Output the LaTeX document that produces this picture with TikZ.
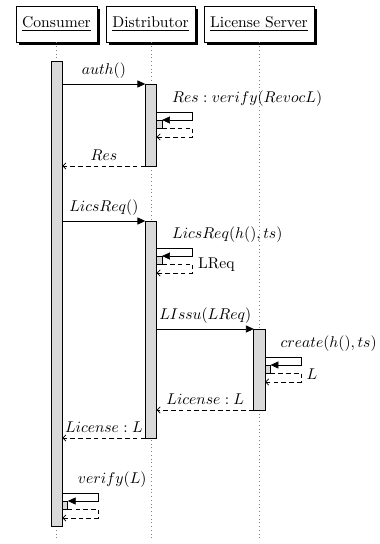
\documentclass[tikz,border=0pt]{standalone}
\usetikzlibrary{arrows.meta,shadows}
\begin{document}
\begin{tikzpicture}[x=0.64pt,y=-0.64pt,
  hdr/.style={draw, fill=white, minimum height=23.04pt, inner sep=2pt,
    drop shadow={fill=black, opacity=1, shadow xshift=2.1pt, shadow yshift=-2.1pt}},
  bar/.style={draw, fill=gray!30, inner sep=0pt, outer sep=0pt, minimum width=7.3pt},
  nbar/.style={draw, fill=gray!30, inner sep=0pt, outer sep=0pt, minimum width=3.46pt, minimum height=5.12pt},
  life/.style={gray, dotted},
  callarr/.style={-{Triangle[length=5pt,width=4.5pt]}},
  retarr/.style={dashed, dash pattern=on 3pt off 2pt, -{Straight Barb[length=2pt,width=4pt]}}]
\useasboundingbox (0,0) rectangle (380,544);

% headers
\node[hdr, minimum width=51.84pt] (hc) at (56.5,24) {\underline{Consumer}};
\node[hdr, minimum width=56.96pt] (hd) at (150.5,24) {\underline{Distributor}};
\node[hdr, minimum width=70.4pt] (hl) at (259,24) {\underline{License Server}};

% lifeline ends
\coordinate (ec) at (56.7,541);
\coordinate (ed) at (151,541);
\coordinate (el) at (259.5,541);
\draw[life] (hc.south -| ec) -- (ec);
\draw[life] (hd.south -| ed) -- (ed);
\draw[life] (hl.south -| el) -- (el);

% activation bars
\node[bar, minimum height=297.6pt] (cb) at (56.7,293.5) {};
\node[bar, minimum height=52.48pt] (d1) at (151,125) {};
\node[bar, minimum height=138.88pt] (d2) at (151,329.5) {};
\node[bar, minimum height=51.84pt] (l1) at (259.5,369.5) {};

% nested bars
\node[nbar] (n1) at (159.4,124) {};
\node[nbar] (n2) at (159.4,260) {};
\node[nbar] (n3) at (267.9,369) {};
\node[nbar] (n4) at (65.1,505) {};

% auth
\draw[callarr] (cb.east |- d1.north west) -- node[above] {$auth()$} (d1.north west);
% self call 1
\draw[callarr] ([yshift=5.12pt]n1.north west) node[above right, xshift=6.4pt] {$Res : verify(RevocL)$}
  -- ++(36,0) -- ++(0,8) -- (n1.north east);
\draw[retarr] (n1.south east) -- ++(30.6,0) -- ++(0,9) -- ([yshift=-5.76pt]n1.south west);
% Res
\draw[retarr] (d1.south west) -- node[above] {$Res$} (cb.east |- d1.south west);

% LicsReq
\draw[callarr] (cb.east |- d2.north west) -- node[above] {$LicsReq()$} (d2.north west);
\draw[callarr] ([yshift=5.12pt]n2.north west) node[above right, xshift=6.4pt] {$LicsReq(h(), ts)$}
  -- ++(36,0) -- ++(0,8) -- (n2.north east);
\draw[retarr] (n2.south east) -- ++(30.6,0) -- node[right, pos=0.1] {LReq} ++(0,9) -- ([yshift=-5.76pt]n2.south west);

% LIssu
\draw[callarr] (d2.east |- l1.north west) -- node[above] {$LIssu(LReq)$} (l1.north west);
\draw[callarr] ([yshift=5.12pt]n3.north west) node[above right, xshift=6.4pt] {$create(h(), ts)$}
  -- ++(36,0) -- ++(0,8) -- (n3.north east);
\draw[retarr] (n3.south east) -- ++(30.6,0) -- node[right, pos=0.1] {$L$} ++(0,9) -- ([yshift=-5.76pt]n3.south west);

% License returns
\draw[retarr] (l1.south west) -- node[above] {$License : L$} (d2.east |- l1.south west);
\draw[retarr] (d2.south west) -- node[above] {$License : L$} (cb.east |- d2.south west);

% verify
\draw[callarr] ([yshift=5.12pt]n4.north west) node[above right, xshift=6.4pt] {$verify(L)$}
  -- ++(36,0) -- ++(0,8) -- (n4.north east);
\draw[retarr] (n4.south east) -- ++(30.6,0) -- ++(0,9) -- ([yshift=-5.76pt]n4.south west);
\end{tikzpicture}
\end{document}
